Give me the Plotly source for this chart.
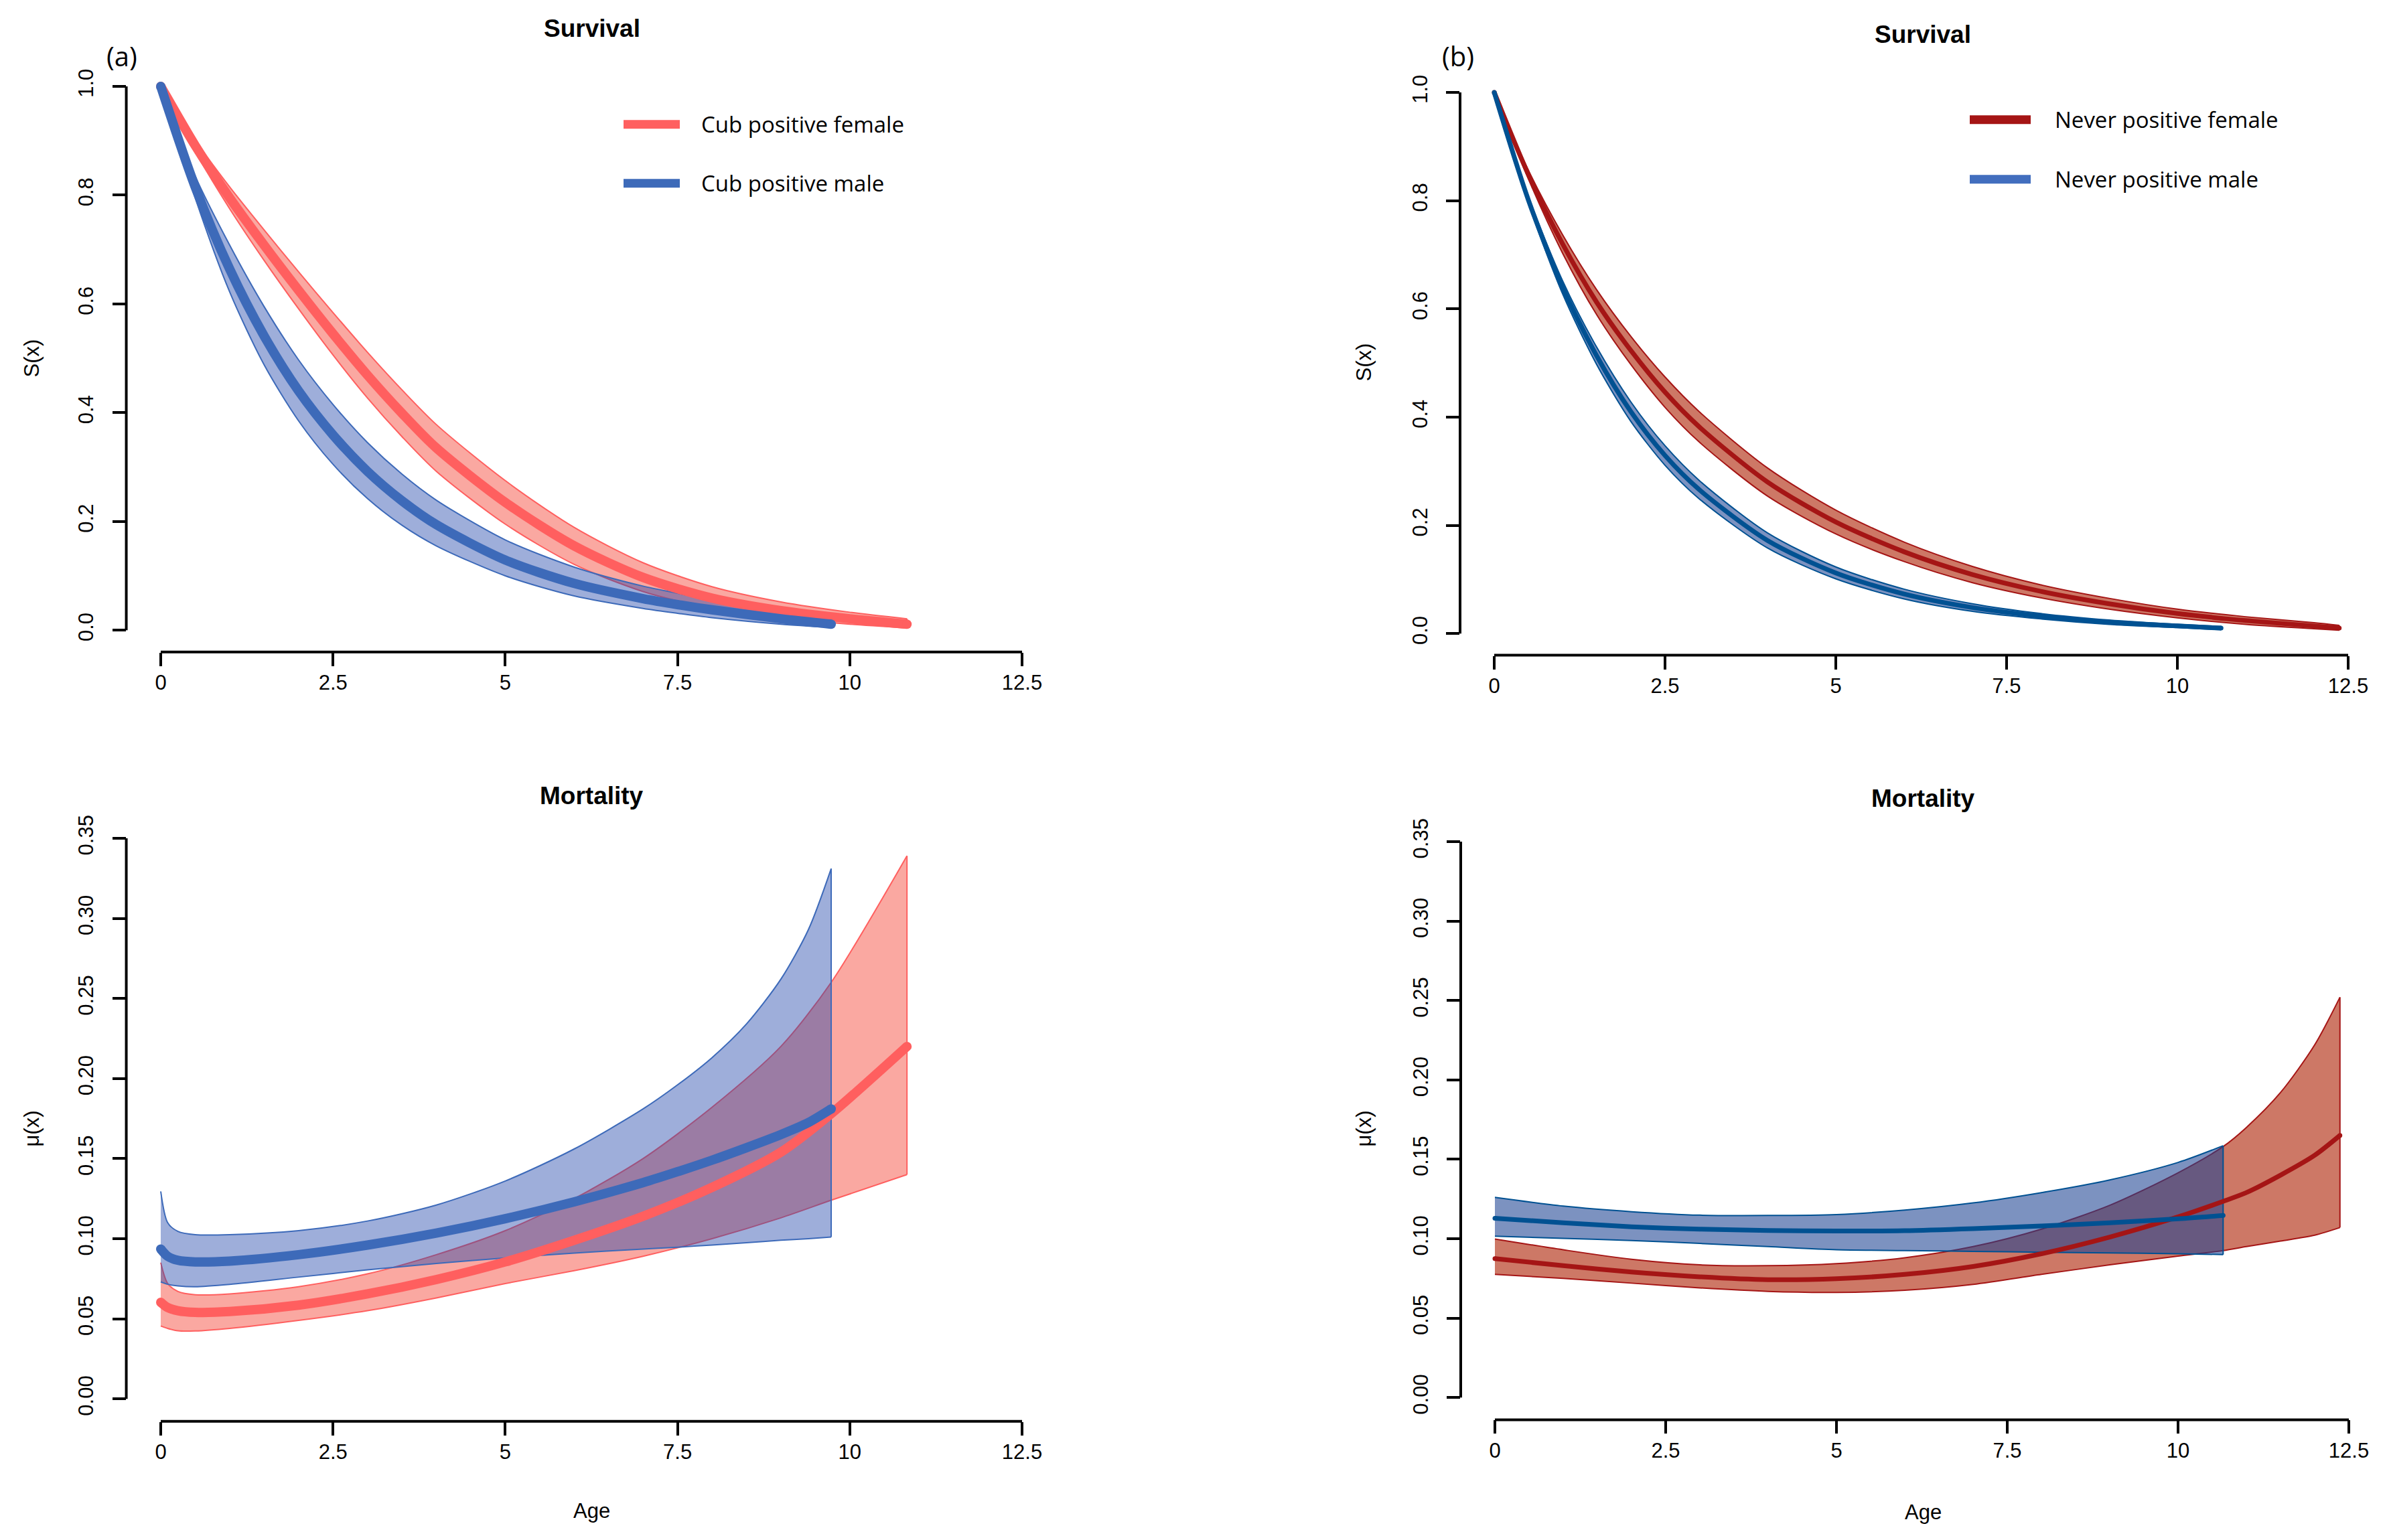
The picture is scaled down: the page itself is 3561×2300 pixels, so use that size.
import plotly.graph_objects as go

# page is 3561 x 2300; the html body has an 8 px margin, so the figure is drawn 8 px in
PAGE_W, PAGE_H, OFF = 3561, 2300, 8
W, H = PAGE_W - 2 * OFF, PAGE_H - 2 * OFF

# ---------------- DATA ----------------
# Panel (a) survival
A_SF_AGE = [0, 0.5, 1, 1.5, 2, 2.5, 3, 3.5, 4, 5, 6, 7, 8, 9, 10, 10.83]
A_SF = [1.000, 0.891, 0.795, 0.708, 0.625, 0.545, 0.469, 0.399, 0.335, 0.235, 0.155, 0.097, 0.059, 0.036, 0.021, 0.011]
A_SF_UP = [1.000, 0.901, 0.815, 0.736, 0.659, 0.584, 0.511, 0.442, 0.378, 0.275, 0.189, 0.124, 0.080, 0.052, 0.033, 0.021]
A_SF_LO = [1.000, 0.880, 0.775, 0.680, 0.591, 0.506, 0.427, 0.356, 0.292, 0.195, 0.121, 0.071, 0.040, 0.022, 0.011, 0.004]

A_SM_AGE = [0, 0.5, 1, 1.5, 2, 2.5, 3, 3.5, 4, 5, 6, 7, 7.5, 8, 9, 9.73]
A_SM = [1.000, 0.815, 0.664, 0.541, 0.440, 0.359, 0.292, 0.238, 0.194, 0.129, 0.086, 0.058, 0.047, 0.0375, 0.021, 0.011]
A_SM_UP = [1.000, 0.835, 0.708, 0.595, 0.497, 0.415, 0.345, 0.287, 0.239, 0.166, 0.116, 0.081, 0.068, 0.055, 0.034, 0.022]
A_SM_LO = [1.000, 0.795, 0.622, 0.488, 0.385, 0.305, 0.242, 0.193, 0.155, 0.100, 0.063, 0.040, 0.031, 0.023, 0.011, 0.005]

# Panel (b) survival
B_SF_AGE = [0, 0.5, 1, 1.5, 2, 2.5, 3, 4, 5, 6, 7, 8, 9, 10, 11, 12, 12.37]
B_SF = [1.000, 0.848, 0.720, 0.612, 0.523, 0.446, 0.382, 0.280, 0.206, 0.151, 0.109, 0.078, 0.055, 0.037, 0.024, 0.014, 0.010]
B_SF_UP = [1.000, 0.856, 0.737, 0.635, 0.549, 0.474, 0.410, 0.306, 0.228, 0.169, 0.124, 0.090, 0.065, 0.045, 0.031, 0.020, 0.015]
B_SF_LO = [1.000, 0.840, 0.703, 0.589, 0.497, 0.418, 0.354, 0.254, 0.184, 0.133, 0.094, 0.066, 0.045, 0.029, 0.017, 0.009, 0.006]

B_SM_AGE = [0, 0.5, 1, 1.5, 2, 2.5, 3, 4, 5, 6, 7, 8, 9, 10, 10.64]
B_SM = [1.000, 0.801, 0.640, 0.513, 0.410, 0.329, 0.266, 0.172, 0.112, 0.073, 0.048, 0.032, 0.021, 0.014, 0.010]
B_SM_UP = [1.000, 0.807, 0.652, 0.529, 0.428, 0.347, 0.283, 0.186, 0.123, 0.082, 0.055, 0.037, 0.025, 0.017, 0.013]
B_SM_LO = [1.000, 0.795, 0.628, 0.497, 0.392, 0.311, 0.249, 0.158, 0.101, 0.064, 0.041, 0.027, 0.017, 0.011, 0.007]

# Panel (a) mortality
A_MF_AGE = [0, 0.1, 0.25, 0.5, 1, 2, 3, 4, 5, 6, 7, 8, 9, 9.73, 10.83]
A_MF = [0.0603, 0.0570, 0.0550, 0.0540, 0.0545, 0.0585, 0.0655, 0.0745, 0.0855, 0.0990, 0.1140, 0.1320, 0.1540, 0.1780, 0.2200]
A_MF_UP = [0.0850, 0.0720, 0.0670, 0.0650, 0.0655, 0.0700, 0.0780, 0.0900, 0.1050, 0.1250, 0.1500, 0.1820, 0.2200, 0.2600, 0.3390]
A_MF_LO = [0.0455, 0.0440, 0.0425, 0.0424, 0.0440, 0.0490, 0.0550, 0.0630, 0.0720, 0.0800, 0.0890, 0.1000, 0.1130, 0.1240, 0.1400]

A_MM_AGE = [0, 0.1, 0.25, 0.5, 1, 2, 3, 4, 5, 6, 7, 7.5, 8, 8.5, 9, 9.4, 9.73]
A_MM = [0.0935, 0.0890, 0.0865, 0.0855, 0.0860, 0.0900, 0.0960, 0.1035, 0.1125, 0.1230, 0.1350, 0.1418, 0.1490, 0.1568, 0.1650, 0.1725, 0.1810]
A_MM_UP = [0.1295, 0.1100, 0.1045, 0.1025, 0.1025, 0.1050, 0.1110, 0.1210, 0.1360, 0.1560, 0.1810, 0.1960, 0.2130, 0.2340, 0.2620, 0.2930, 0.3310]
A_MM_LO = [0.0730, 0.0715, 0.0705, 0.0700, 0.0715, 0.0760, 0.0805, 0.0845, 0.0880, 0.0910, 0.0935, 0.0947, 0.0960, 0.0975, 0.0990, 0.1000, 0.1010]

# Panel (b) mortality
B_MF_AGE = [0, 1, 2, 3, 4, 5, 6, 7, 8, 9, 10, 10.66, 11, 11.5, 12, 12.37]
B_MF = [0.0874, 0.0830, 0.0790, 0.0760, 0.0742, 0.0748, 0.0775, 0.0825, 0.0905, 0.1010, 0.1137, 0.1235, 0.1290, 0.1400, 0.1525, 0.1650]
B_MF_UP = [0.0998, 0.0930, 0.0870, 0.0835, 0.0830, 0.0843, 0.0880, 0.0950, 0.1060, 0.1210, 0.1415, 0.1580, 0.1700, 0.1920, 0.2220, 0.2520]
B_MF_LO = [0.0775, 0.0750, 0.0720, 0.0690, 0.0668, 0.0662, 0.0675, 0.0712, 0.0775, 0.0835, 0.0890, 0.0925, 0.0950, 0.0985, 0.1022, 0.1070]

B_MM_AGE = [0, 1, 2, 3, 4, 5, 6, 7, 8, 9, 10, 10.66]
B_MM = [0.1128, 0.1100, 0.1075, 0.1060, 0.1052, 0.1048, 0.1050, 0.1063, 0.1080, 0.1100, 0.1125, 0.1146]
B_MM_UP = [0.1260, 0.1205, 0.1170, 0.1148, 0.1146, 0.1152, 0.1180, 0.1225, 0.1290, 0.1370, 0.1480, 0.1585]
B_MM_LO = [0.1016, 0.1002, 0.0988, 0.0970, 0.0950, 0.0930, 0.0925, 0.0920, 0.0915, 0.0910, 0.0905, 0.0900]

X_TICKS = [0, 2.5, 5, 7.5, 10, 12.5]
X_TICKTEXT = ["0", "2.5", "5", "7.5", "10", "12.5"]
S_TICKS = [0, 0.2, 0.4, 0.6, 0.8, 1.0]
S_TICKTEXT = ["0.0", "0.2", "0.4", "0.6", "0.8", "1.0"]
M_TICKS = [0, 0.05, 0.10, 0.15, 0.20, 0.25, 0.30, 0.35]
M_TICKTEXT = ["0.00", "0.05", "0.10", "0.15", "0.20", "0.25", "0.30", "0.35"]

LEGEND_A = ["Cub positive female", "Cub positive male"]
LEGEND_B = ["Never positive female", "Never positive male"]

# ---------------- STYLE ----------------
A_F_LINE, A_F_FILL = "#FF5F5F", "rgba(245,70,55,0.47)"
A_M_LINE, A_M_FILL = "#3D6AB9", "rgba(30,68,170,0.43)"
B_F_LINE, B_F_FILL = "#A51515", "rgba(172,30,0,0.60)"
B_M_LINE, B_M_FILL = "#005192", "rgba(30,68,147,0.58)"
B_M_LEG = "#426EBE"

RFONT = "Liberation Sans, Arial, Helvetica, sans-serif"
MFONT = "Open Sans, Lato, sans-serif"

# panel page-pixel geometry: (px of x=0, px of x=12.5, px of y=0, px of y=ymax, ymax)
PANELS = {
    "a_s": (240, 1526, 940, 127, 1.0),
    "b_s": (2231, 3506, 945, 136, 1.0),
    "a_m": (240, 1526, 2089, 1251, 0.35),
    "b_m": (2232, 3507, 2087, 1256, 0.35),
}


def fx_page(x):
    return (x - OFF) / W


def fy_page(y):
    return 1 - (y - OFF) / H


def geom(key):
    x0p, x1p, y0p, ytp, ymax = PANELS[key]
    ux = (x1p - x0p) / 12.5
    left = x0p - 0.5 * ux
    right = min(x0p + 13 * ux, OFF + W - 1)
    xr = [-0.5, -0.5 + (right - left) / ux]
    uy = (y0p - ytp) / ymax
    bottom, top = y0p + 0.04 * ymax * uy, ytp - 0.04 * ymax * uy
    return [fx_page(left), fx_page(right)], [fy_page(bottom), fy_page(top)], xr, [-0.04 * ymax, 1.04 * ymax]


fig = go.Figure()

axis_ids = {"a_s": ("x", "y"), "b_s": ("x2", "y2"), "a_m": ("x3", "y3"), "b_m": ("x4", "y4")}
SMOOTH = 0.8


def band(key, age, up, lo, fill, line, lw=2):
    xa, ya = axis_ids[key]
    fig.add_trace(go.Scatter(x=age, y=lo, mode="lines", line=dict(color=line, width=lw, shape="spline", smoothing=SMOOTH),
                             xaxis=xa, yaxis=ya, showlegend=False, hoverinfo="skip"))
    fig.add_trace(go.Scatter(x=age, y=up, mode="lines", fill="tonexty", fillcolor=fill,
                             line=dict(color=line, width=lw, shape="spline", smoothing=SMOOTH),
                             xaxis=xa, yaxis=ya, showlegend=False, hoverinfo="skip"))
    fig.add_trace(go.Scatter(x=[age[-1], age[-1]], y=[lo[-1], up[-1]], mode="lines",
                             line=dict(color=line, width=lw), xaxis=xa, yaxis=ya, showlegend=False, hoverinfo="skip"))


def curve(key, age, val, color, width):
    xa, ya = axis_ids[key]
    fig.add_trace(go.Scatter(x=age, y=val, mode="lines", line=dict(color=color, width=width, shape="spline", smoothing=SMOOTH),
                             xaxis=xa, yaxis=ya, showlegend=False, hoverinfo="skip"))
    fig.add_trace(go.Scatter(x=[age[0], age[-1]], y=[val[0], val[-1]], mode="markers",
                             marker=dict(color=color, size=width, line=dict(width=0)),
                             xaxis=xa, yaxis=ya, showlegend=False, hoverinfo="skip"))


# panel (a) survival
band("a_s", A_SF_AGE, A_SF_UP, A_SF_LO, A_F_FILL, A_F_LINE)
band("a_s", A_SM_AGE, A_SM_UP, A_SM_LO, A_M_FILL, A_M_LINE)
curve("a_s", A_SF_AGE, A_SF, A_F_LINE, 14)
curve("a_s", A_SM_AGE, A_SM, A_M_LINE, 14)
# panel (b) survival
band("b_s", B_SF_AGE, B_SF_UP, B_SF_LO, B_F_FILL, B_F_LINE)
band("b_s", B_SM_AGE, B_SM_UP, B_SM_LO, B_M_FILL, B_M_LINE)
curve("b_s", B_SF_AGE, B_SF, B_F_LINE, 7)
curve("b_s", B_SM_AGE, B_SM, B_M_LINE, 7)
# panel (a) mortality
band("a_m", A_MF_AGE, A_MF_UP, A_MF_LO, A_F_FILL, A_F_LINE)
band("a_m", A_MM_AGE, A_MM_UP, A_MM_LO, A_M_FILL, A_M_LINE)
curve("a_m", A_MF_AGE, A_MF, A_F_LINE, 14)
curve("a_m", A_MM_AGE, A_MM, A_M_LINE, 14)
# panel (b) mortality
band("b_m", B_MF_AGE, B_MF_UP, B_MF_LO, B_F_FILL, B_F_LINE)
band("b_m", B_MM_AGE, B_MM_UP, B_MM_LO, B_M_FILL, B_M_LINE)
curve("b_m", B_MF_AGE, B_MF, B_F_LINE, 7)
curve("b_m", B_MM_AGE, B_MM, B_M_LINE, 7)

layout = dict(width=W, height=H, margin=dict(l=0, r=0, t=0, b=0), paper_bgcolor="white", plot_bgcolor="white",
              showlegend=False)
shapes = []
for key, (xa, ya) in axis_ids.items():
    xd, yd, xr, yr = geom(key)
    ymax = PANELS[key][4]
    yt, ytt = (S_TICKS, S_TICKTEXT) if ymax == 1.0 else (M_TICKS, M_TICKTEXT)
    xname = "xaxis" + xa[1:]
    yname = "yaxis" + ya[1:]
    layout[xname] = dict(domain=xd, range=xr, anchor=ya, showgrid=False, zeroline=False, showline=False,
                         ticks="outside", ticklen=20, tickwidth=4, tickcolor="black",
                         tickvals=X_TICKS, ticktext=X_TICKTEXT, ticklabelstandoff=-2,
                         tickfont=dict(family=RFONT, size=31, color="black"))
    layout[yname] = dict(domain=yd, range=yr, anchor=xa, showgrid=False, zeroline=False, showline=False,
                         ticks="outside", ticklen=20, tickwidth=4, tickcolor="black",
                         tickvals=yt, ticktext=ytt, tickangle=-90, ticklabelstandoff=16,
                         tickfont=dict(family=RFONT, size=31, color="black"))
    # R-style axis lines spanning first to last tick
    fx = lambda v: (v - xr[0]) / (xr[1] - xr[0])
    fy = lambda v: (v - yr[0]) / (yr[1] - yr[0])
    shapes.append(dict(type="line", xref=xa + " domain", yref=ya + " domain", x0=fx(X_TICKS[0]), x1=fx(X_TICKS[-1]),
                       y0=0, y1=0, line=dict(color="black", width=4)))
    shapes.append(dict(type="line", xref=xa + " domain", yref=ya + " domain", x0=0, x1=0,
                       y0=fy(yt[0]), y1=fy(yt[-1]), line=dict(color="black", width=4)))

# legends (drawn as line samples + text)
for (x0, x1, y), col in [((931, 1015, 184), A_F_LINE), ((931, 1015, 272), A_M_LINE),
                         ((2941, 3032, 177), B_F_LINE), ((2941, 3032, 266), B_M_LEG)]:
    shapes.append(dict(type="line", xref="paper", yref="paper", x0=fx_page(x0), x1=fx_page(x1),
                       y0=fy_page(y), y1=fy_page(y), line=dict(color=col, width=13)))
layout["shapes"] = shapes

ann = []
def text(t, x, y, size, family=RFONT, bold=False, angle=0, xanchor="center"):
    ann.append(dict(text=("<b>%s</b>" % t) if bold else t, x=fx_page(x), y=fy_page(y), xref="paper", yref="paper",
                    xanchor=xanchor, yanchor="middle", showarrow=False, textangle=angle,
                    font=dict(family=family, size=size, color="black")))

text("Survival", 884, 41, 37, bold=True)
text("Survival", 2871, 50, 37, bold=True)
text("Mortality", 883, 1188, 37, bold=True)
text("Mortality", 2871, 1192, 37, bold=True)
text("Age", 883, 2256, 31)
text("Age", 2871, 2258, 31)
text("S(x)", 48, 534, 31, angle=-90)
text("S(x)", 2037, 540, 31, angle=-90)
text("μ(x)", 48, 1685, 31, angle=-90)
text("μ(x)", 2037, 1685, 31, angle=-90)
text("(a)", 182, 82, 40, family=MFONT)
text("(b)", 2177, 82, 40, family=MFONT)
text(LEGEND_A[0], 1045, 184, 33, family=MFONT, xanchor="left")
text(LEGEND_A[1], 1045, 272, 33, family=MFONT, xanchor="left")
text(LEGEND_B[0], 3066, 177, 33, family=MFONT, xanchor="left")
text(LEGEND_B[1], 3066, 266, 33, family=MFONT, xanchor="left")
layout["annotations"] = ann

fig.update_layout(**layout)
fig.write_html("out.html")
